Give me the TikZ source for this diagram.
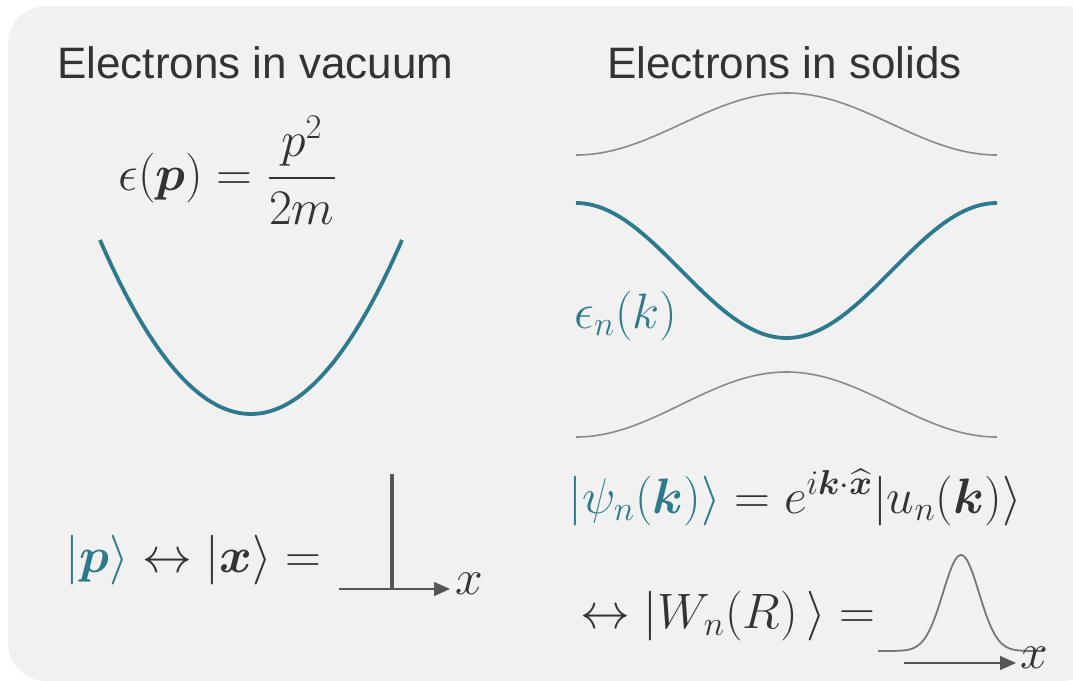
\documentclass[tikz,border=0pt]{standalone}
\usepackage{amsmath,amssymb}
\usepackage{fontspec}
\setsansfont{Liberation Sans}
\usetikzlibrary{arrows.meta}
\definecolor{bg}{HTML}{F1F1F1}
\definecolor{dark}{HTML}{333333}
\definecolor{tealc}{HTML}{2E7A8C}
\definecolor{bandgray}{HTML}{8A8A8A}
\definecolor{axisgray}{HTML}{555555}
\tikzset{
  title/.style={inner sep=0pt, anchor=base west, text=dark, font=\sffamily\fontsize{22}{26}\selectfont},
  mathtxt/.style={inner sep=0pt, anchor=base west, text=dark, font=\fontsize{25}{30}\selectfont},
  tealcurve/.style={draw=tealc, line width=1.9pt},
  band/.style={draw=bandgray, line width=0.8pt},
  axisline/.style={draw=axisgray, line width=0.7pt, -{Triangle[length=8pt,width=7pt]}},
}
\begin{document}
\begin{tikzpicture}[x=0.5pt,y=-0.5pt]
\useasboundingbox (0,0) rectangle (1073,681);
\begin{scope}
\clip (0,0) rectangle (1073,681);
\fill[bg, rounded corners=19pt] (8,6) rectangle (1100,681);
\end{scope}
% titles
\node[title] (t1) at (57,78) {Electrons in vacuum};
\node[title] (t2) at (607,78) {Electrons in solids};
% free electron
\node[mathtxt] (eps) at (118,190) {$\displaystyle \epsilon(\boldsymbol{p}) = \frac{p^2}{2m}$};
\draw[tealcurve, domain=100:402, samples=80] plot (\x, {414 - 174*((\x-251)/151)^2});
% bands
\draw[band, domain=576:997, samples=100] plot (\x, {124 - 31*cos((\x-786.5)/421*360)});
\draw[tealcurve, domain=576:997, samples=100] plot (\x, {270.5 + 67.5*cos((\x-786.5)/421*360)});
\draw[band, domain=576:997, samples=100] plot (\x, {404.5 - 32.5*cos((\x-786.5)/421*360)});
\node[mathtxt, text=tealc] (en) at (574,328) {$\epsilon_n(k)$};
% Bloch
\node[mathtxt] (bloch) at (568,513) {$\color{tealc}|\psi_n(\boldsymbol{k})\rangle\color{dark} = e^{i\boldsymbol{k}\cdot\widehat{\boldsymbol{x}}}|u_n(\boldsymbol{k})\rangle$};
\node[mathtxt] (wan) at (580,628) {$\leftrightarrow |W_n(R)\,\rangle =$};
% gaussian
\draw[draw=axisgray!80, line width=0.9pt, domain=878:1043, samples=120] plot (\x, {651 - 96*exp(-((\x-961)/18)^2/2)});
\coordinate (ga0) at (904,663);
\coordinate (ga1) at (1016,663);
\draw[axisline] (ga0) -- (ga1);
\node[mathtxt] (gx) at (1020,668) {$x$};
% p <-> x
\node[mathtxt] (px) at (65,572) {$\color{tealc}|\boldsymbol{p}\rangle\color{dark} \leftrightarrow |\boldsymbol{x}\rangle =$};
\coordinate (d0) at (392,589);
\coordinate (d1) at (392,474);
\draw[draw=axisgray, line width=2pt] (d0) -- (d1);
\coordinate (a0) at (339,589);
\coordinate (a1) at (450,589);
\draw[axisline] (a0) -- (a1);
\node[mathtxt] (ax) at (455,594) {$x$};
\end{tikzpicture}
\end{document}
